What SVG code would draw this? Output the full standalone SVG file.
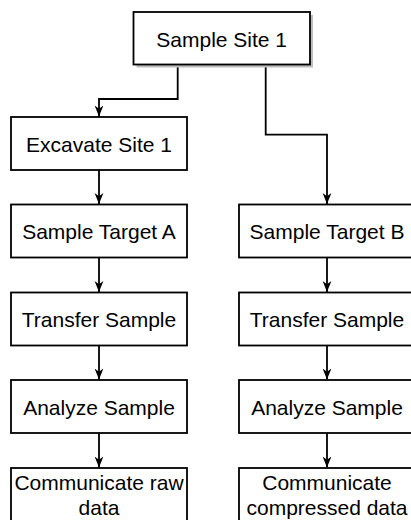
<svg xmlns="http://www.w3.org/2000/svg" width="411" height="520" viewBox="0 0 411 520">
<defs>
<style>
.box{fill:#fff;stroke:#000;stroke-width:1.8}
.shadow{fill:#bdbdbd}
.lbl{font-family:"Liberation Sans",Arial,sans-serif;font-size:21px;fill:#000;text-anchor:middle}
.edge{fill:none;stroke:#000;stroke-width:1.8}
</style>
<marker id="arr" viewBox="0 0 10 10" refX="10" refY="5" markerWidth="11" markerHeight="11" markerUnits="userSpaceOnUse" orient="auto">
<path d="M0,1 L10,5 L0,9 L3,5 z" fill="#000"/>
</marker>
</defs>
<rect width="411" height="520" fill="#fff"/>
<g id="edges">
<path class="edge" d="M177.7,64 V99 H99 V116.5" marker-end="url(#arr)"/>
<path class="edge" d="M265.7,64 V134.7 H327 V204" marker-end="url(#arr)"/>
<path class="edge" d="M99,170 V204" marker-end="url(#arr)"/>
<path class="edge" d="M99,257.5 V292" marker-end="url(#arr)"/>
<path class="edge" d="M99,345.5 V379.5" marker-end="url(#arr)"/>
<path class="edge" d="M99,433 V467.5" marker-end="url(#arr)"/>
<path class="edge" d="M327,257.5 V292" marker-end="url(#arr)"/>
<path class="edge" d="M327,345.5 V379.5" marker-end="url(#arr)"/>
<path class="edge" d="M327,433 V467.5" marker-end="url(#arr)"/>
</g>
<g id="site1">
<rect class="shadow" x="136.5" y="15" width="176.5" height="52.5"/>
<rect class="box" x="133.5" y="12" width="176.5" height="52.5"/>
<text class="lbl" x="221.7" y="46.5">Sample Site 1</text>
</g>
<g id="excavate">
<rect class="box" x="11" y="117" width="176" height="53"/>
<text class="lbl" x="99" y="151.5">Excavate Site 1</text>
</g>
<g id="targetA">
<rect class="box" x="11" y="204.5" width="176" height="53"/>
<text class="lbl" x="99" y="239">Sample Target A</text>
</g>
<g id="transferA">
<rect class="box" x="11" y="292.5" width="176" height="53"/>
<text class="lbl" x="99" y="327">Transfer Sample</text>
</g>
<g id="analyzeA">
<rect class="box" x="11" y="380" width="176" height="53"/>
<text class="lbl" x="99" y="414.5">Analyze Sample</text>
</g>
<g id="commA">
<rect class="box" x="11" y="468" width="176" height="53"/>
<text class="lbl" x="99" y="490">Communicate raw</text>
<text class="lbl" x="99" y="515">data</text>
</g>
<g id="targetB">
<rect class="box" x="239" y="204.5" width="176" height="53"/>
<text class="lbl" x="327" y="239">Sample Target B</text>
</g>
<g id="transferB">
<rect class="box" x="239" y="292.5" width="176" height="53"/>
<text class="lbl" x="327" y="327">Transfer Sample</text>
</g>
<g id="analyzeB">
<rect class="box" x="239" y="380" width="176" height="53"/>
<text class="lbl" x="327" y="414.5">Analyze Sample</text>
</g>
<g id="commB">
<rect class="box" x="239" y="468" width="176" height="53"/>
<text class="lbl" x="327" y="490">Communicate</text>
<text class="lbl" x="327" y="515">compressed data</text>
</g>
</svg>
